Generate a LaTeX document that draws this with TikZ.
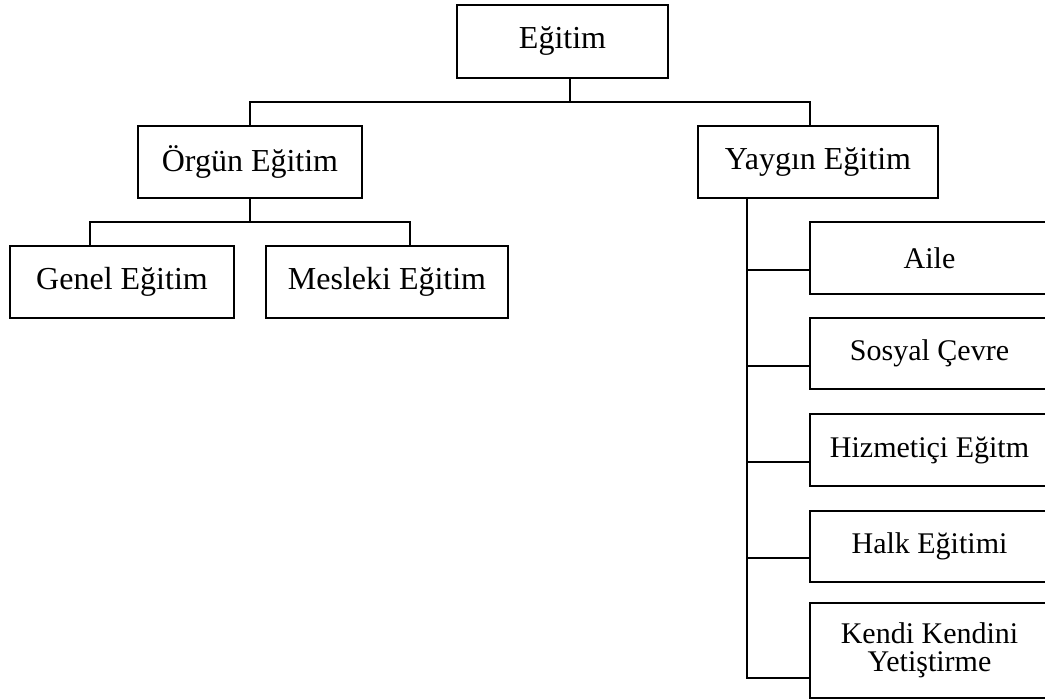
\documentclass[tikz,border=0pt]{standalone}
\usepackage{fontspec}
\setmainfont{Liberation Serif}
\begin{document}
\begin{tikzpicture}[x=1pt,y=-1pt,
  box/.style={draw=black, line width=1.5pt, rectangle, inner sep=0pt, align=center,
    font=\fontsize{32}{30}\selectfont},
  sidebox/.style={box, minimum width=239pt, font=\fontsize{30}{28.5}\selectfont},
  conn/.style={draw=black, line width=1.5pt}]
\useasboundingbox (0,0) rectangle (1045,700);
\clip (0,0) rectangle (1045,700);
% level 0
\node[box, minimum width=211pt, minimum height=73pt] (top) at (562.5,41.5) {Eğitim};
% level 1
\node[box, minimum width=224pt, minimum height=72pt] (orgun) at (250,162) {Örgün Eğitim};
\node[box, minimum width=240pt, minimum height=72pt] (yaygin) at (818,162) {Yaygın Eğitim};
% level 2 left
\node[box, minimum width=224pt, minimum height=72pt] (genel) at (122,282) {Genel Eğitim};
\node[box, minimum width=242pt, minimum height=72pt] (mesleki) at (387,282) {Mesleki Eğitim};
% level 2 right
\node[sidebox, minimum height=72pt] (aile) at (929.5,258) {Aile};
\node[sidebox, minimum height=71pt] (sosyal) at (929.5,353.5) {Sosyal Çevre};
\node[sidebox, minimum height=72pt] (hizmet) at (929.5,450) {Hizmetiçi Eğitm};
\node[sidebox, minimum height=71pt] (halk) at (929.5,546.5) {Halk Eğitimi};
\node[sidebox, minimum height=95pt] (kendi) at (929.5,650.5) {Kendi Kendini\\Yetiştirme};
% junctions
\coordinate (j1) at (570,102);
\coordinate (jl) at (250,102);
\coordinate (jr) at (810,102);
\coordinate (k) at (250,222);
\coordinate (kl) at (90,222);
\coordinate (kr) at (410,222);
\coordinate (s0) at (747,198);
% connectors
\draw[conn] (top.south -| j1) -- (j1);
\draw[conn] (orgun.north) -- (jl) -- (jr) -- (jr |- yaygin.north);
\draw[conn] (orgun.south) -- (k);
\draw[conn] (kl |- genel.north) -- (kl) -- (kr) -- (kr |- mesleki.north);
\draw[conn] (s0) |- ([yshift=-12pt]aile.west);
\draw[conn] (s0) |- ([yshift=-12.5pt]sosyal.west);
\draw[conn] (s0) |- ([yshift=-12pt]hizmet.west);
\draw[conn] (s0) |- ([yshift=-11.5pt]halk.west);
\draw[conn] (s0) |- ([yshift=-27.5pt]kendi.west);
\end{tikzpicture}
\end{document}
